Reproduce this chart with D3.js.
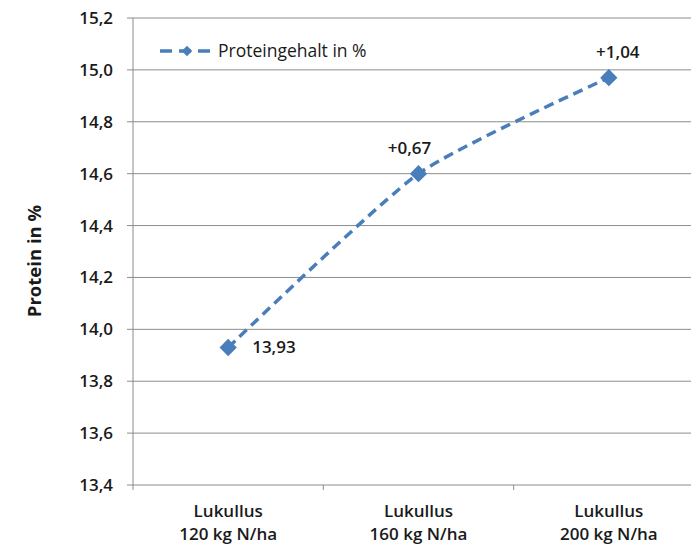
<!DOCTYPE html>
<html>
<head>
<meta charset="utf-8">
<script src="https://d3js.org/d3.v7.min.js"></script>
<style>
  body { margin: 0; background: #fff; }
  text { font-family: "Open Sans", Lato, sans-serif; fill: #1a1a1a; }
</style>
</head>
<body>
<svg width="691" height="546"></svg>
<script>
// data
const categories = [["Lukullus", "120 kg N/ha"], ["Lukullus", "160 kg N/ha"], ["Lukullus", "200 kg N/ha"]];
const protein = [13.93, 14.60, 14.97];
const pointLabels = ["13,93", "+0,67", "+1,04"];
const yTicks = [13.4, 13.6, 13.8, 14.0, 14.2, 14.4, 14.6, 14.8, 15.0, 15.2];
const seriesName = "Proteingehalt in %";
const yTitle = "Protein in %";

const blue = "#4a7ebb";
const grid = "#8c8c8c";

const svg = d3.select("svg");
const mLeft = 133, mRight = 704, mTop = 18, mBottom = 485;

const x = d3.scaleBand().domain(d3.range(categories.length)).range([mLeft, mRight]);
const y = d3.scaleLinear().domain([13.4, 15.2]).range([mBottom, mTop]);
const fmt = d => d.toFixed(1).replace(".", ",");
const cx = i => x(i) + x.bandwidth() / 2;

// gridlines
svg.append("g").selectAll("line")
  .data(yTicks)
  .enter().append("line")
  .attr("x1", mLeft - 6).attr("x2", mRight)
  .attr("y1", d => y(d)).attr("y2", d => y(d))
  .attr("stroke", grid).attr("stroke-width", 1);

// y axis labels
svg.append("g").selectAll("text")
  .data(yTicks)
  .enter().append("text")
  .attr("x", mLeft - 20)
  .attr("y", d => y(d) + 6)
  .attr("text-anchor", "end")
  .attr("font-size", "17px")
  .attr("font-weight", "600")
  .text(fmt);

// axis lines
svg.append("line")
  .attr("x1", mLeft).attr("x2", mLeft).attr("y1", mTop).attr("y2", mBottom)
  .attr("stroke", grid);
svg.append("g").selectAll("line")
  .data(d3.range(categories.length + 1))
  .enter().append("line")
  .attr("x1", d => mLeft + d * x.step()).attr("x2", d => mLeft + d * x.step())
  .attr("y1", mBottom).attr("y2", mBottom + 5)
  .attr("stroke", grid);

// category labels
const cat = svg.append("g").selectAll("text")
  .data(categories)
  .enter().append("text")
  .attr("text-anchor", "middle")
  .attr("font-size", "17px")
  .attr("font-weight", "600");
cat.append("tspan")
  .attr("x", (d, i) => cx(i))
  .attr("y", 517)
  .text(d => d[0]);
cat.append("tspan")
  .attr("x", (d, i) => cx(i))
  .attr("y", 540)
  .text(d => d[1]);

// y title
svg.append("text")
  .attr("transform", "translate(41,261) rotate(-90)")
  .attr("text-anchor", "middle")
  .attr("font-size", "18.5px")
  .attr("font-weight", "bold")
  .text(yTitle);

// series line (Excel-style smoothing)
const line = d3.line()
  .x((d, i) => cx(i))
  .y(d => y(d))
  .curve(d3.curveCardinal.tension(0.4));

svg.append("path")
  .datum(protein)
  .attr("d", line)
  .attr("fill", "none")
  .attr("stroke", blue)
  .attr("stroke-width", 3.5)
  .attr("stroke-dasharray", "10,6");

const diamond = d3.symbol().type(d3.symbolDiamond2).size(190);

svg.append("g").selectAll("path")
  .data(protein)
  .enter().append("path")
  .attr("d", diamond)
  .attr("transform", (d, i) => "translate(" + cx(i) + "," + y(d) + ")")
  .attr("fill", blue);

// data labels
const labelDx = [24, -9, 9];
svg.append("g").selectAll("text")
  .data(protein)
  .enter().append("text")
  .attr("x", (d, i) => cx(i) + labelDx[i])
  .attr("y", (d, i) => i === 0 ? y(d) + 6 : y(d) - 20)
  .attr("text-anchor", (d, i) => i === 0 ? "start" : "middle")
  .attr("font-size", "17px")
  .attr("font-weight", "600")
  .text((d, i) => pointLabels[i]);

// legend
const lg = svg.append("g").attr("transform", "translate(160,51)");
lg.append("line")
  .attr("x1", 0).attr("x2", 55)
  .attr("stroke", blue).attr("stroke-width", 3.5)
  .attr("stroke-dasharray", "12,7");
lg.append("path")
  .attr("d", d3.symbol().type(d3.symbolDiamond2).size(70))
  .attr("transform", "translate(27,0)")
  .attr("fill", blue);
lg.append("text")
  .attr("x", 58).attr("y", 6)
  .attr("font-size", "17.5px")
  .text(seriesName);
</script>
</body>
</html>
